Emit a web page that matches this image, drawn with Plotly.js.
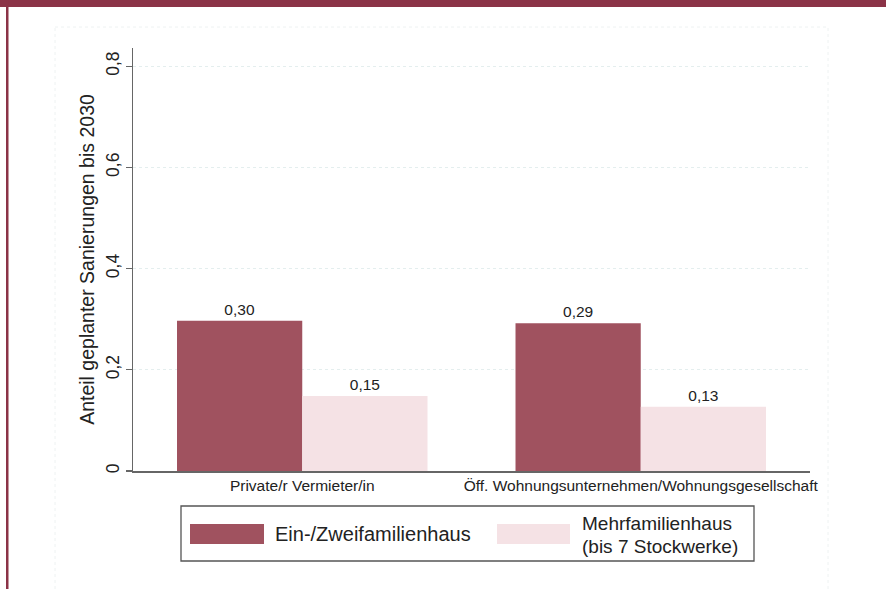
<!DOCTYPE html>
<html>
<head>
<meta charset="utf-8">
<script src="https://cdn.plot.ly/plotly-3.0.1.min.js"></script>
<style>
  html, body { margin: 0; padding: 0; background: #fff; }
  #chart { width: 886px; height: 589px; }
</style>
</head>
<body>
<div id="chart"></div>
<script>
// ---- Data ----
const categories = ["Private/r Vermieter/in", "Öff. Wohnungsunternehmen/Wohnungsgesellschaft"];
const seriesNames = ["Ein-/Zweifamilienhaus", "Mehrfamilienhaus<br>(bis 7 Stockwerke)"];
const einZweifamilienhaus = [0.297, 0.292];
const mehrfamilienhaus = [0.148, 0.127];
const yTickValues = [0, 0.2, 0.4, 0.6, 0.8];
const yTitle = "Anteil geplanter Sanierungen bis 2030";

// ---- Layout helpers (pixel -> paper) ----
const W = 886, H = 589;
const L = 133, R = 810, T = 48, B = 471;
const px = x => (x - L) / (R - L);
const py = y => (B - y) / (B - T);

const darkColor = "#a0525f";
const lightColor = "#f5e2e5";
const font = "Liberation Sans, Arial, sans-serif";

const traces = [
  {
    type: "bar", x: categories, y: einZweifamilienhaus, name: seriesNames[0],
    marker: { color: darkColor, line: { width: 0 } },
    texttemplate: "%{y:.2f}", textposition: "outside",
    textfont: { family: font, size: 15.5, color: "#222" },
    cliponaxis: false, showlegend: false, hoverinfo: "skip"
  },
  {
    type: "bar", x: categories, y: mehrfamilienhaus, name: seriesNames[1],
    marker: { color: lightColor, line: { width: 0 } },
    texttemplate: "%{y:.2f}", textposition: "outside",
    textfont: { family: font, size: 15.5, color: "#222" },
    cliponaxis: false, showlegend: false, hoverinfo: "skip"
  }
];

const shapes = [
  // top band
  { type: "rect", xref: "paper", yref: "paper", x0: px(0), x1: px(W), y0: py(0), y1: py(7),
    fillcolor: "#8b3347", line: { width: 0 }, layer: "above" },
  // left vertical line
  { type: "rect", xref: "paper", yref: "paper", x0: px(6), x1: px(8.5), y0: py(0), y1: py(H),
    fillcolor: "#8b3347", line: { width: 0 }, layer: "above" },
  // faint inner graph region border
  { type: "rect", xref: "paper", yref: "paper", x0: px(55), x1: px(828), y0: py(27), y1: py(H + 5),
    fillcolor: "rgba(0,0,0,0)", line: { width: 1, color: "#eef2f2", dash: "dot" }, layer: "below" },
  // legend box
  { type: "rect", xref: "paper", yref: "paper", x0: px(181), x1: px(754), y0: py(506), y1: py(561),
    fillcolor: "#fff", line: { width: 1.3, color: "#555" } },
  // legend swatches
  { type: "rect", xref: "paper", yref: "paper", x0: px(190), x1: px(264), y0: py(524), y1: py(544),
    fillcolor: darkColor, line: { width: 0 } },
  { type: "rect", xref: "paper", yref: "paper", x0: px(497), x1: px(570), y0: py(524), y1: py(544),
    fillcolor: lightColor, line: { width: 0 } }
];

const name2Lines = seriesNames[1].split("<br>");
const annotations = [
  { xref: "paper", yref: "paper", x: px(273), y: py(534), xanchor: "left", yanchor: "middle",
    text: seriesNames[0], showarrow: false, font: { family: font, size: 20, color: "#222" } },
  { xref: "paper", yref: "paper", x: px(580), y: py(523), xanchor: "left", yanchor: "middle",
    text: name2Lines[0], showarrow: false, font: { family: font, size: 19, color: "#222" } },
  { xref: "paper", yref: "paper", x: px(580), y: py(546), xanchor: "left", yanchor: "middle",
    text: name2Lines[1], showarrow: false, font: { family: font, size: 19, color: "#222" } }
];

const layout = {
  width: W, height: H,
  margin: { l: L, r: W - R, t: T, b: H - B, pad: 0 },
  paper_bgcolor: "#fff", plot_bgcolor: "#fff",
  separators: ",.",
  barmode: "group",
  bargap: 0.26, bargroupgap: 0,
  showlegend: false,
  font: { family: font, color: "#222" },
  xaxis: {
    type: "category", range: [-0.5, 1.5],
    showline: true, linecolor: "#666", linewidth: 1.5,
    ticks: "", showgrid: false, zeroline: false,
    tickfont: { family: font, size: 15.5, color: "#222" }
  },
  yaxis: {
    range: [0, 0.836],
    tickvals: yTickValues,
    tickangle: -90,
    ticks: "outside", ticklen: 6, tickcolor: "#666", tickwidth: 1.3,
    showline: true, linecolor: "#666", linewidth: 1.5,
    showgrid: true, gridcolor: "#e4eeee", griddash: "dot", gridwidth: 1,
    zeroline: false,
    tickfont: { family: font, size: 17.5, color: "#222" },
    title: { text: yTitle, font: { family: font, size: 19.5, color: "#222" }, standoff: 2 }
  },
  shapes: shapes,
  annotations: annotations
};

Plotly.newPlot("chart", traces, layout, { displayModeBar: false, staticPlot: true });
</script>
</body>
</html>
